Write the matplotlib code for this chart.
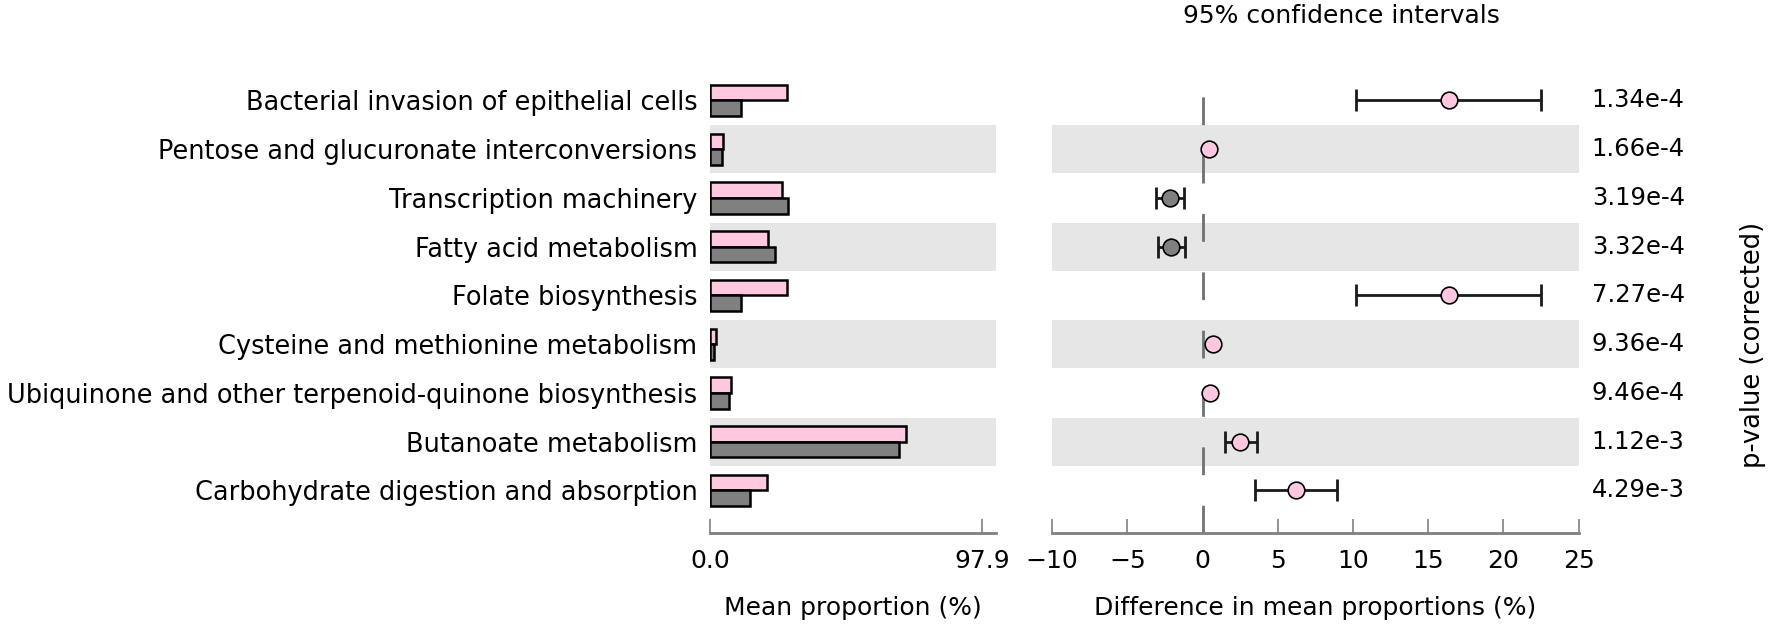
import matplotlib
matplotlib.use("Agg")
import matplotlib.pyplot as plt
import matplotlib.transforms as mtrans
import numpy as np

plt.rcParams['font.family'] = ['DejaVu Sans']

categories = [
    "Bacterial invasion of epithelial cells",
    "Pentose and glucuronate interconversions",
    "Transcription machinery",
    "Fatty acid metabolism",
    "Folate biosynthesis",
    "Cysteine and methionine metabolism",
    "Ubiquinone and other terpenoid-quinone biosynthesis",
    "Butanoate metabolism",
    "Carbohydrate digestion and absorption",
]
group1_mean = [27.6, 4.5, 25.8, 21.0, 27.6, 2.2, 7.4, 70.3, 20.6]   # pink
group2_mean = [11.0, 4.2, 27.9, 23.4, 11.0, 1.6, 6.8, 68.0, 14.5]   # grey
diff = [16.4, 0.45, -2.2, -2.1, 16.4, 0.7, 0.5, 2.5, 6.2]
ci_low = [10.2, 0.45, -3.1, -3.0, 10.2, 0.7, 0.5, 1.5, 3.5]
ci_high = [22.5, 0.45, -1.25, -1.2, 22.5, 0.7, 0.5, 3.6, 8.9]
pvalues = ["1.34e-4", "1.66e-4", "3.19e-4", "3.32e-4", "7.27e-4",
           "9.36e-4", "9.46e-4", "1.12e-3", "4.29e-3"]
max_prop = 97.9
diff_ticks = [-10, -5, 0, 5, 10, 15, 20, 25]

PINK = "#FFC8E0"
GREY = "#808080"
BAND = "#E6E6E6"
FS = 18

W, H = 1772, 627
fig = plt.figure(figsize=(W / 100, H / 100), dpi=100)

top_px, bot_px = 76, 533.3
ax_b = 1 - bot_px / H
ax_h = (bot_px - top_px) / H
ax1 = fig.add_axes([710 / W, ax_b, 286 / W, ax_h])
ax2 = fig.add_axes([1052.2 / W, ax_b, 526.5 / W, ax_h])

n = len(categories)
y = np.arange(n)[::-1]  # top row = n-1
ylim = (-0.878, n - 0.5)
bh = 0.32

for ax in (ax1, ax2):
    ax.set_ylim(*ylim)
    for i in range(n):
        if i % 2 == 1:
            ax.axhspan(y[i] - 0.49, y[i] + 0.49, color=BAND, lw=0, zorder=0)
    for s in ("top", "right", "left"):
        ax.spines[s].set_visible(False)
    ax.spines["bottom"].set_color(GREY)
    ax.spines["bottom"].set_linewidth(2)
    ax.tick_params(axis="x", direction="in", length=10, width=1.2, color=GREY,
                   labelsize=FS, pad=11)

# left: mean proportions
ax1.barh(y + bh / 2, group1_mean, height=bh, color=PINK, edgecolor="black",
         linewidth=1.8, zorder=3)
ax1.barh(y - bh / 2, group2_mean, height=bh, color=GREY, edgecolor="black",
         linewidth=1.8, zorder=3)
ax1.set_xlim(0, max_prop * 1.05)
ax1.set_xticks([0, max_prop])
ax1.set_xticklabels(["0.0", f"{max_prop:.1f}"])
ax1.set_yticks(y)
ax1.set_yticklabels(categories, fontsize=18.45)
ax1.tick_params(axis="y", length=0, pad=9)
ax1.set_xlabel("Mean proportion (%)", fontsize=FS, labelpad=17)

# right: differences with CI
ax2.set_xlim(-10, 25)
ax2.set_xticks(diff_ticks)
ax2.set_yticks([])
ax2.axvline(0, color="#707070", lw=2, ls=(0, (10, 11)), zorder=1)
for i in range(n):
    col = PINK if diff[i] > 0 else GREY
    d = diff[i]
    if ci_high[i] - ci_low[i] > 0.05:
        err = [[d - ci_low[i]], [ci_high[i] - d]]
        ax2.errorbar(d, y[i], xerr=err, fmt="none", ecolor="#1a1a1a",
                     elinewidth=2, capsize=8, capthick=2, zorder=3)
    ax2.plot(d, y[i], "o", ms=12, mfc=col, mec="black", mew=1.2, zorder=4)
ax2.set_xlabel("Difference in mean proportions (%)", fontsize=FS, labelpad=17)

fig.text(1341.5 / W, 1 - 16 / H, "95% confidence intervals", fontsize=FS,
         ha="center", va="center")

# p-values
trans = mtrans.blended_transform_factory(fig.transFigure, ax2.transData)
for i in range(n):
    ax2.text(1591.7 / W, y[i], pvalues[i], transform=trans, fontsize=17.5,
             va="center", ha="left", clip_on=False)
fig.text(1753 / W, 1 - 345 / H, "p-value (corrected)", rotation=90,
         fontsize=18.5, va="center", ha="center")

fig.savefig("out.png", dpi=100)
